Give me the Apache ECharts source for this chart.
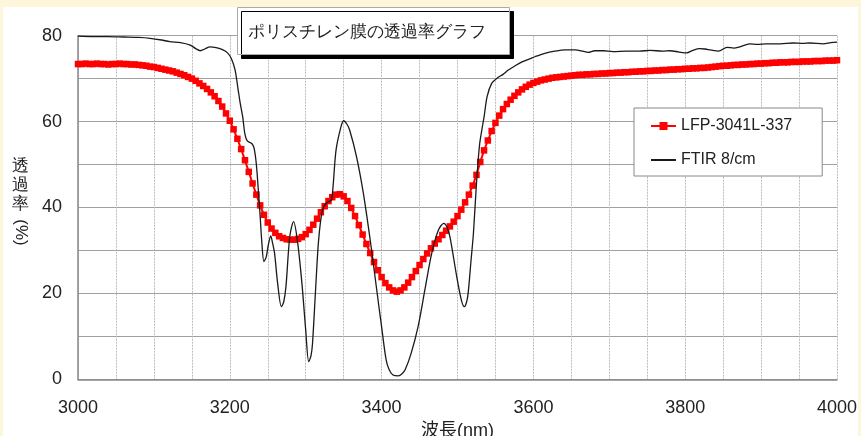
<!DOCTYPE html>
<html><head><meta charset="utf-8">
<script src="https://cdn.jsdelivr.net/npm/echarts@6/dist/echarts.min.js"></script>
<style>
html,body{margin:0;padding:0;background:#FEF6DA;width:861px;height:436px;overflow:hidden}
#c{position:absolute;left:3px;top:7px;width:855px;height:429px;background:#fff}
</style></head><body><div id="c"></div>
<script>
const titleText = 'ポリスチレン膜の透過率グラフ';
const xName = '波長(nm)';
const yNameTop = '透\n過\n率';
const yNameUnit = '(%)';
const seriesNames = ['LFP-3041L-337', 'FTIR 8/cm'];
const xTicks = [3000, 3200, 3400, 3600, 3800, 4000];
const yTicks = [0, 20, 40, 60, 80];

// LFP-3041L-337: sampled every 5 nm from 3000 nm
const lfpStart = 3000, lfpStep = 5;
const lfpValues = [
73.4,73.4,73.5,73.4,73.4,73.5,73.4,73.4,73.3,73.4,
73.4,73.5,73.4,73.4,73.3,73.3,73.2,73.1,73.0,72.8,
72.7,72.5,72.3,72.1,71.9,71.7,71.4,71.1,70.8,70.4,
70.0,69.5,68.9,68.3,67.6,66.8,65.9,64.8,63.5,61.9,
60.2,58.2,56.0,53.6,51.0,48.3,45.6,43.0,40.5,38.3,
36.5,35.1,34.1,33.3,32.9,32.6,32.5,32.5,32.7,33.1,
33.8,34.8,36.0,37.4,38.9,40.3,41.5,42.4,43.0,43.1,
42.6,41.5,39.9,38.0,35.9,33.7,31.5,29.4,27.3,25.4,
23.8,22.4,21.4,20.7,20.4,20.7,21.4,22.5,23.8,25.2,
26.6,28.0,29.3,30.5,31.6,32.6,33.6,34.6,35.6,36.7,
38.0,39.5,41.2,43.0,45.1,47.6,50.6,53.3,55.6,57.8,
59.7,61.4,62.9,64.1,65.1,66.0,66.8,67.5,68.1,68.6,
69.0,69.3,69.6,69.8,70.0,70.2,70.3,70.4,70.5,70.6,
70.7,70.8,70.9,70.9,71.0,71.0,71.1,71.1,71.2,71.2,
71.3,71.3,71.4,71.4,71.5,71.5,71.6,71.6,71.7,71.7,
71.8,71.8,71.9,71.9,72.0,72.0,72.1,72.1,72.2,72.2,
72.3,72.3,72.4,72.4,72.5,72.5,72.6,72.7,72.8,72.9,
73.0,73.0,73.1,73.2,73.2,73.3,73.3,73.4,73.4,73.5,
73.5,73.6,73.6,73.7,73.7,73.8,73.8,73.8,73.9,73.9,
73.9,74.0,74.0,74.0,74.1,74.1,74.1,74.2,74.2,74.2,
74.3
];

// FTIR 8/cm
const ftirX = [3000,3020,3040,3060,3080,3095,3110,3121,3135,3148,3155,3161,3167,3174,3182,3191,3197,3202,3207,3211,
3214,3217,3220,3223,3229,3232,3235,3238,3240,3242,3245,3248,3251,3254,3256,3259,3263,3268,3271,3274,
3279,3284,3289,3295,3300,3304,3307,3309,3313,3317,3322,3327,3332,3334,3336,3340,3346,3350,3354,3358,
3367,3376,3385,3393,3400,3406,3410,3415,3422,3427,3431,3439,3448,3457,3466,3475,3482,3486,3490,3499,
3505,3509,3512,3514,3518,3521,3525,3529,3532,3535,3539,3545,3552,3560,3567,3575,3585,3595,3602,3615,
3628,3642,3655,3665,3672,3681,3692,3705,3723,3740,3754,3770,3780,3792,3802,3810,3819,3826,3833,3844,
3855,3864,3872,3885,3895,3907,3925,3942,3955,3964,3982,3992,4000];
const ftirY = [79.9,79.8,79.8,79.7,79.6,79.4,79.0,78.6,78.4,77.8,77.0,76.5,76.9,77.4,77.2,76.7,76.0,74.7,72.0,67.4,
64.0,61.1,57.0,55.5,54.9,53.8,50.0,43.0,38.0,32.4,27.4,28.5,31.5,33.4,32.0,29.3,22.4,16.9,18.0,21.6,
33.2,36.7,32.4,22.4,11.5,4.1,5.5,8.4,20.8,32.4,39.4,41.0,41.5,41.7,44.8,53.4,58.5,60.2,59.5,58.0,
51.8,43.3,32.4,21.6,12.2,4.5,2.2,1.0,0.8,1.3,2.2,6.1,12.2,20.8,29.3,34.8,36.3,35.5,33.2,23.9,
18.5,16.9,18.0,20.0,28.0,34.0,45.6,54.5,58.0,61.1,65.8,68.9,70.1,71.0,72.0,72.9,73.9,74.6,75.1,75.9,
76.4,76.7,76.7,76.4,76.1,76.5,76.5,76.3,76.4,76.4,76.6,76.4,76.5,76.2,76.0,76.6,77.0,76.9,76.7,76.4,
77.3,77.1,77.4,78.1,78.0,78.1,78.1,78.3,78.2,78.3,78.1,78.4,78.5];

const lfpData = lfpValues.map((v, i) => [lfpStart + i * lfpStep, v]);
const ftirData = ftirX.map((x, i) => [x, ftirY[i]]);

const FONT = "'Liberation Sans', 'Noto Sans CJK JP', sans-serif";
const chart = echarts.init(document.getElementById('c'), null, {renderer: 'canvas'});
chart.setOption({
  animation: false,
  textStyle: {fontFamily: FONT},
  grid: {left: 75, right: 21, top: 28.7, bottom: 56.7, containLabel: false, outerBoundsMode: 'none'},
  xAxis: {
    type: 'value', min: 3000, max: 4000, interval: 50,
    axisLine: {show: true, lineStyle: {color: '#888', width: 1.5}},
    axisTick: {show: false},
    axisLabel: {formatter: v => xTicks.includes(v) ? String(v) : '', fontSize: 18, color: '#222', margin: 20, fontFamily: FONT},
    splitLine: {show: true, lineStyle: {color: '#bdbdbd', type: [2, 1]}},
    name: xName, nameLocation: 'middle', nameGap: 40,
    nameTextStyle: {fontSize: 18, color: '#222', fontFamily: FONT}
  },
  yAxis: {
    type: 'value', min: 0, max: 80, interval: 10,
    axisLine: {show: true, lineStyle: {color: '#888', width: 1.5}},
    axisTick: {show: false},
    axisLabel: {formatter: v => yTicks.includes(v) ? String(v) : '', fontSize: 18, color: '#222', margin: 16, fontFamily: FONT},
    splitLine: {show: true, lineStyle: {color: '#a0a0a0', width: 1}},
    name: yNameUnit, nameLocation: 'middle', nameRotate: -90, nameGap: 49,
    nameTextStyle: {fontSize: 17, color: '#222', fontFamily: FONT, padding: [0, 0, 0, 50]}
  },
  legend: {
    orient: 'vertical', left: 631, top: 101,
    data: [
      {name: seriesNames[0]},
      {name: seriesNames[1], itemStyle: {opacity: 0}}
    ],
    borderColor: '#888', borderWidth: 1, backgroundColor: '#fff',
    padding: [8, 30, 6, 16], itemGap: 14, itemWidth: 25, itemHeight: 10,
    textStyle: {fontSize: 16, color: '#222', lineHeight: 20, fontFamily: FONT},
    z: 20
  },
  series: [
    {
      name: seriesNames[0], type: 'line', data: lfpData,
      symbol: 'rect', symbolSize: 6.5, showSymbol: true,
      itemStyle: {color: '#ff0000'},
      lineStyle: {color: '#ff0000', width: 2},
      z: 3
    },
    {
      name: seriesNames[1], type: 'line', data: ftirData,
      symbol: 'none', smooth: 0.3,
      itemStyle: {color: '#1a1a1a'},
      lineStyle: {color: '#1a1a1a', width: 1.3},
      z: 4
    }
  ],
  graphic: [
    {
      type: 'rect', z: 50, left: 234, top: 0,
      shape: {width: 272, height: 47},
      style: {fill: '#fff', stroke: '#aaa', lineWidth: 1, shadowColor: '#000', shadowOffsetX: 4, shadowOffsetY: 4, shadowBlur: 0}
    },
    {
      type: 'text', z: 51, x: 245, y: 25,
      style: {text: titleText, fontSize: 17, fill: '#222', font: '17px ' + FONT, verticalAlign: 'middle', align: 'left'}
    },
    {
      type: 'text', z: 51, x: 17, y: 150,
      style: {text: yNameTop, fontSize: 17, lineHeight: 19, fill: '#222', font: '17px ' + FONT, align: 'center', verticalAlign: 'top'}
    }
  ]
});
</script></body></html>
